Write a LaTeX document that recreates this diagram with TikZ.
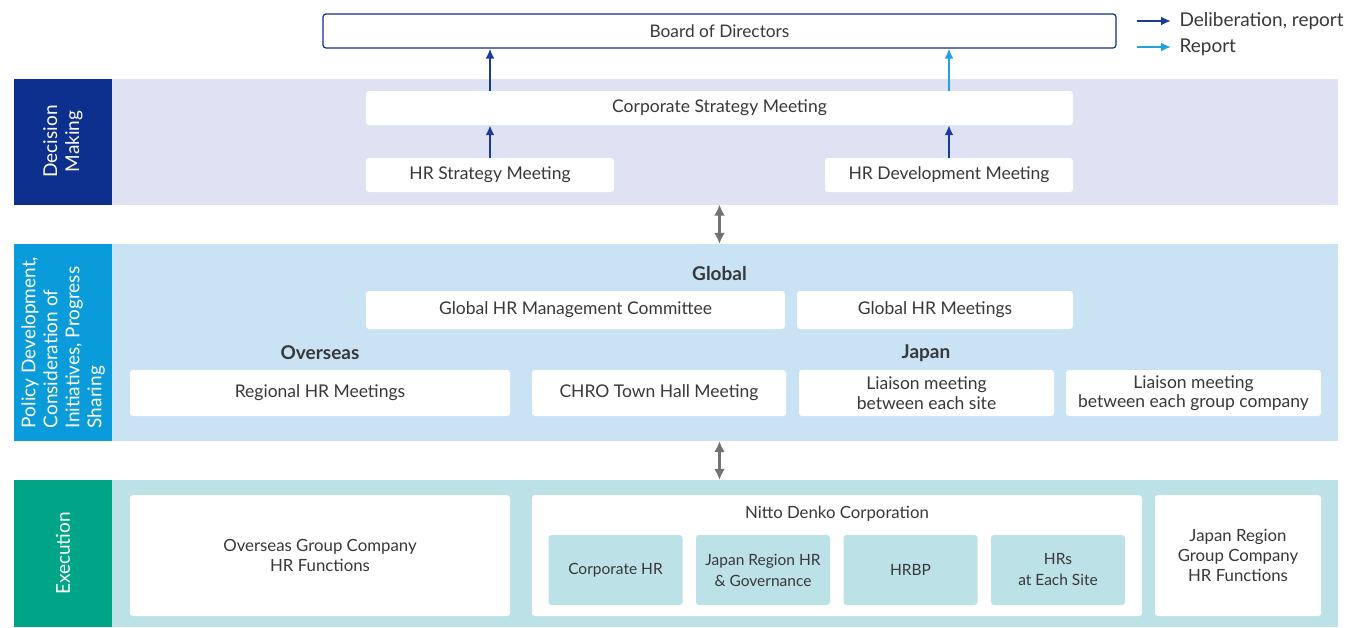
\documentclass[tikz,border=0pt]{standalone}
\usepackage{fontspec}
\setmainfont{Lato}
\usetikzlibrary{arrows.meta}
\definecolor{txtgray}{HTML}{383838}
\definecolor{dmdark}{HTML}{0D2F8D}
\definecolor{dmbg}{HTML}{DFE2F2}
\definecolor{pddark}{HTML}{0A9BDA}
\definecolor{pdbg}{HTML}{C9E3F5}
\definecolor{exdark}{HTML}{00A587}
\definecolor{exbg}{HTML}{BCE2E8}
\definecolor{delibcol}{HTML}{1B3A9B}
\definecolor{reportcol}{HTML}{1FA2DD}
\definecolor{linkgray}{HTML}{727272}
\tikzset{
  band/.style={inner sep=0pt, draw=none},
  sidelabel/.style={rotate=90, text=white, font=\fontsize{19}{22}\selectfont},
  box/.style={fill=white, rounded corners=3pt, text=txtgray, align=center, inner sep=0pt,
    font=\fontsize{17.5}{19.5}\selectfont},
  exbox/.style={box, font=\fontsize{16.8}{20}\selectfont},
  subbox/.style={box, fill=exbg, font=\fontsize{15.5}{21}\selectfont},
  head/.style={text=txtgray, font=\fontsize{19}{21}\selectfont\bfseries},
  delib/.style={->, draw=delibcol, line width=2.3pt, >={Latex[length=10pt,width=9pt]}},
  report/.style={delib, draw=reportcol},
  link/.style={<->, draw=linkgray, line width=3.5pt, >={Latex[length=11pt,width=11pt]}}
}
\begin{document}
\begin{tikzpicture}[x=1pt, y=-1pt]
    \useasboundingbox (0,0) rectangle (1353,627);

    % 1. Board and legend
    \node[box, draw=dmdark, line width=1.2pt, minimum width=793, minimum height=34,
        font=\fontsize{17.3}{19}\selectfont] (board) at (719.5,31) {Board of Directors};
    \node[anchor=west, text=txtgray, font=\fontsize{19}{21}\selectfont] (legdelib) at (1176,21) {Deliberation, report};
    \node[anchor=west, text=txtgray, font=\fontsize{19}{21}\selectfont] (legreport) at (1176,47) {Report};
    \draw[delib] ([xshift=-39pt]legdelib.west) -- ([xshift=-5pt]legdelib.west);
    \draw[report] ([xshift=-39pt]legreport.west) -- ([xshift=-5pt]legreport.west);

    % 2. Decision making
    \node[band, fill=dmbg, minimum width=1226, minimum height=126] (dmband) at (725,141.5) {};
    \node[band, fill=dmdark, minimum width=98, minimum height=126] (dmside) at (63,141.5) {};
    \node[sidelabel, align=center] at (dmside) {Decision\\Making};
    \node[box, minimum width=707, minimum height=34] (csm) at (719.5,108) {Corporate Strategy Meeting};
    \node[box, minimum width=248, minimum height=34] (hrs) at (490,175) {HR Strategy Meeting};
    \node[box, minimum width=248, minimum height=34] (hrd) at (949,175) {HR Development Meeting};
    \draw[delib] (hrs.north) -- (hrs.north |- csm.south);
    \draw[delib] (hrd.north) -- (hrd.north |- csm.south);
    \draw[delib] (csm.north -| hrs.north) -- (hrs.north |- board.south);
    \draw[report] (csm.north -| hrd.north) -- (hrd.north |- board.south);

    % 3. Policy development
    \node[band, fill=pdbg, minimum width=1226, minimum height=197] (pdband) at (725,342.5) {};
    \node[band, fill=pddark, minimum width=98, minimum height=197] (pdside) at (63,342.5) {};
    \node[sidelabel, align=left] at (pdside) {Policy Development,\\Consideration of\\Initiatives, Progress\\Sharing};
    \node[head] (global) at (719.5,274) {Global};
    \node[box, minimum width=419, minimum height=38] (ghrmc) at (575.5,310) {Global HR Management Committee};
    \node[box, minimum width=276, minimum height=38] (ghrm) at (935,310) {Global HR Meetings};
    \node[head] (overseas) at (320,353) {Overseas};
    \node[head] (japan) at (926,353) {Japan};
    \node[box, minimum width=380, minimum height=46] (rhrm) at (320,393) {Regional HR Meetings};
    \node[box, minimum width=254, minimum height=46] (chro) at (659,393) {CHRO Town Hall Meeting};
    \node[box, minimum width=255, minimum height=46] (lsite) at (926.5,393) {Liaison meeting\\between each site};
    \node[box, minimum width=255, minimum height=46] (lgroup) at (1193.5,393) {Liaison meeting\\between each group company};
    \draw[link] (dmband.south -| board.south) -- (pdband.north -| board.south);

    % 4. Execution
    \node[band, fill=exbg, minimum width=1226, minimum height=147] (exband) at (725,553.5) {};
    \node[band, fill=exdark, minimum width=98, minimum height=147] (exside) at (63,553.5) {};
    \node[sidelabel] at (exside) {Execution};
    \node[exbox, minimum width=380, minimum height=121] (ovgc) at (320,555.5) {Overseas Group Company\\HR Functions};
    \node[exbox, minimum width=610, minimum height=121] (nitto) at (837,555.5) {};
    \node[text=txtgray, font=\fontsize{16.8}{19}\selectfont] (nittotitle) at (837,514) {Nitto Denko Corporation};
    \node[subbox, minimum width=134, minimum height=70] (corphr) at (615.5,570) {Corporate HR};
    \node[subbox, minimum width=134, minimum height=70] (jphr) at (763,570) {Japan Region HR\\\& Governance};
    \node[subbox, minimum width=134, minimum height=70] (hrbp) at (910.5,570) {HRBP};
    \node[subbox, minimum width=134, minimum height=70] (hrsite) at (1058,570) {HRs\\at Each Site};
    \node[exbox, minimum width=166, minimum height=121] (jpgc) at (1238,555.5) {Japan Region\\Group Company\\HR Functions};
    \draw[link] (pdband.south -| board.south) -- (exband.north -| board.south);
\end{tikzpicture}
\end{document}
